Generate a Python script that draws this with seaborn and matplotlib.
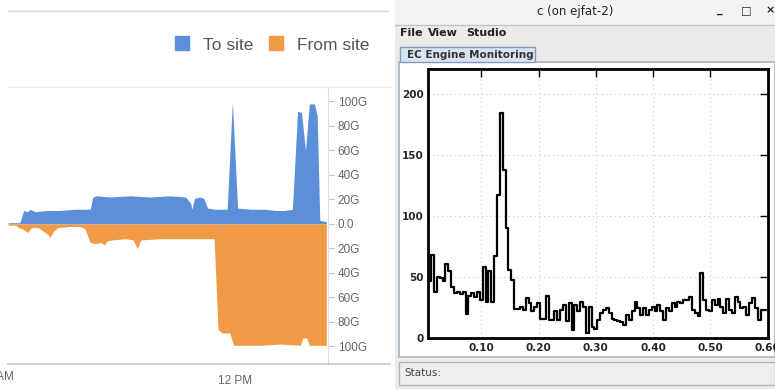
import numpy as np
import pandas as pd
import matplotlib
matplotlib.use('Agg')
import matplotlib.pyplot as plt
import seaborn as sns
from matplotlib.patches import Rectangle
from matplotlib.lines import Line2D
from matplotlib.ticker import MultipleLocator, FormatStrFormatter

""" Data """

# left panel: site traffic, minutes after 9 AM vs Gbit/s
to_minutes = [6, 15, 18, 21, 23, 27, 35, 46, 57, 69, 71, 74, 84, 100, 115, 130, 142, 146, 147, 149,
              153, 156, 159, 165, 174, 178, 182, 192, 203, 211, 218, 224, 228, 231, 234, 237, 241,
              243, 245, 250]
to_site = [1, 1, 11, 10, 12, 10, 11, 11, 12, 12, 22, 23, 22, 23, 22, 23, 22, 17, 12, 21,
           22, 21, 13, 12, 12, 100, 13, 12, 12, 11, 11, 12, 92, 91, 60, 98, 98,
           88, 3, 2]

from_minutes = [6, 12, 14, 17, 21, 24, 29, 32, 37, 38, 41, 44, 54, 61, 65, 69, 73, 77, 80, 82,
                86, 96, 102, 105, 108, 123, 138, 153, 164, 167, 170, 176, 179, 199, 215, 230,
                232, 235, 237, 250]
from_site = [1, 1, 3, 4, 7, 3, 3, 5, 9, 11, 6, 3, 2, 2, 4, 15, 16, 15, 17, 14,
             13, 12, 13, 20, 13, 12, 12, 12, 12, 86, 89, 89, 99, 99, 98, 99,
             93, 93, 99, 99]

y_ticks = [-100, -80, -60, -40, -20, 0, 20, 40, 60, 80, 100]

# right panel: EC engine histogram
bin_start = 0.0075
bin_width = 0.005
counts = [47, 68, 38, 50, 49, 47, 61, 55, 42, 37, 38, 36, 38, 20, 35, 37, 34, 38, 31, 58,
          30, 55, 30, 67, 117, 184, 138, 90,
          56, 48, 24, 24, 26, 23, 33, 29, 22, 26, 29, 16, 16, 35, 15, 15, 22, 15, 23, 27,
          14, 29, 7, 27, 22, 30, 26, 4,
          26, 9, 8, 15, 21, 23, 25, 21, 16, 15, 14, 13, 11, 19, 15, 22, 30, 25, 19, 25,
          19, 23, 26, 22, 27, 22, 15, 25, 22, 29, 26, 30, 29, 31, 31, 34, 23, 21, 18,
          53,
          31, 23, 22, 31, 27, 32, 26, 21, 32, 23, 21, 34, 30, 25, 26, 19, 29, 33, 25, 15, 23, 23]

W, H = 775, 389
BLUE = '#5b8fda'
ORANGE = '#f09a45'

sns.set_style('white')
plt.rcParams['font.family'] = ['Liberation Sans', 'DejaVu Sans']


def fx(x):
    return x / W


def fy(y):
    return 1 - y / H


fig = plt.figure(figsize=(W / 100, H / 100), dpi=100)
fig.patch.set_facecolor('white')

""" Left panel """

ax1 = fig.add_axes([fx(8), fy(364), fx(328) - fx(8), fy(87) - fy(364)])
ax1.fill_between(to_minutes, 0, to_site, color=BLUE, lw=0)
ax1.fill_between(from_minutes, 0, -np.array(from_site), color=ORANGE, lw=0)
ax1.set_xlim(6, 251.3)
ax1.set_ylim(-114.3, 111.8)
ax1.yaxis.tick_right()
ax1.set_yticks(y_ticks)
ax1.set_yticklabels([f'{abs(v)}G' if v else '0.0' for v in y_ticks])
ax1.set_xticks([180])
ax1.set_xticklabels(['12 PM'])
ax1.tick_params(axis='y', length=4, color='#c4c4c4', labelcolor='#666666', labelsize=8.5, pad=3)
ax1.tick_params(axis='x', length=6, color='#c4c4c4', labelcolor='#666666', labelsize=8.5, pad=2)
for s in ['left', 'top']:
    ax1.spines[s].set_visible(False)
ax1.spines['right'].set_color('#dddddd')
ax1.spines['bottom'].set_color('#c8c8c8')
ax1.spines['bottom'].set_linewidth(1.2)
ax1.text(0, -0.025, '9 AM', transform=ax1.get_xaxis_transform(), ha='center', va='top',
         fontsize=8.5, color='#666666', clip_on=False)

fig.add_artist(Line2D([fx(8), fx(388)], [fy(11), fy(11)], color='#d4d4d4', lw=1))
fig.add_artist(Line2D([fx(8), fx(390)], [fy(87), fy(87)], color='#ececec', lw=1))
fig.add_artist(Line2D([fx(328), fx(390)], [fy(364), fy(364)], color='#c8c8c8', lw=1.2))

handles = [Line2D([], [], marker='s', ls='', markersize=10, color=c) for c in (BLUE, ORANGE)]
fig.legend(handles, ['To site', 'From site'], loc='center right', bbox_to_anchor=(fx(376), fy(45)),
           ncol=2, frameon=False, fontsize=12.5, handletextpad=0.2, columnspacing=0.3,
           labelcolor='#555555', borderaxespad=0)

""" Right panel: java window """

win = dict(transform=fig.transFigure, zorder=-5)
fig.add_artist(Rectangle((fx(395), 0), fx(W) - fx(395), 1, fc='#ebebeb', ec='none', **win))
fig.add_artist(Rectangle((fx(395), fy(25)), fx(W) - fx(395), fy(0) - fy(25), fc='#f3f3f3', ec='none', **win))
fig.add_artist(Line2D([fx(395), fx(W)], [fy(25), fy(25)], color='#c4c4c4', lw=1))
fig.text(fx(575), fy(11), 'c (on ejfat-2)', ha='center', va='center', fontsize=8.5,
         family='DejaVu Sans', color='#222222')
for xx, ch in [(720, '_'), (746, '□'), (770, '×')]:
    fig.text(fx(xx), fy(10), ch, ha='center', va='center', fontsize=8, family='DejaVu Sans',
             color='#222222', weight='bold')
for xx, ch in [(400, 'File'), (428, 'View'), (466, 'Studio')]:
    fig.text(fx(xx), fy(33), ch, ha='left', va='center', fontsize=8, family='DejaVu Sans',
             color='#222222', weight='bold')

fig.add_artist(Rectangle((fx(399), fy(357)), fx(W) - fx(399), fy(62) - fy(357), fc='white',
                         ec='#a4b4c6', lw=1.2, **win))
fig.add_artist(Rectangle((fx(400), fy(62)), fx(535) - fx(400), fy(47) - fy(62), fc='#d8e4ef',
                         ec='#7f9cba', lw=1, **win))
fig.text(fx(407), fy(55), 'EC Engine Monitoring', ha='left', va='center', fontsize=7.5,
         family='DejaVu Sans', weight='bold', color='#333333')
fig.add_artist(Rectangle((fx(399), fy(385)), fx(W) - fx(399), fy(362) - fy(385), fc='#eeeeee',
                         ec='#b4b4b4', lw=1, **win))
fig.text(fx(404), fy(373), 'Status:', ha='left', va='center', fontsize=7.5,
         family='DejaVu Sans', color='#444444')

ax2 = fig.add_axes([fx(428.3), fy(338.3), fx(767.7) - fx(428.3), fy(69.3) - fy(338.3)])
edges = (bin_start + bin_width * np.arange(len(counts) + 1)).tolist()
hist = pd.DataFrame({'x': np.array(edges[:-1]) + bin_width / 2, 'count': counts})
sns.histplot(data=hist, x='x', weights='count', bins=edges, element='step', fill=False,
             color='black', linewidth=1.6, ax=ax2)
ax2.set_xlim(edges[0], 0.6)
ax2.set_ylim(0, 220)
ax2.set_xlabel('')
ax2.set_ylabel('')
ax2.xaxis.set_major_locator(MultipleLocator(0.1))
ax2.xaxis.set_minor_locator(MultipleLocator(0.02))
ax2.yaxis.set_major_locator(MultipleLocator(50))
ax2.yaxis.set_minor_locator(MultipleLocator(10))
ax2.xaxis.set_major_formatter(FormatStrFormatter('%.2f'))
ax2.tick_params(which='both', direction='in', color='black')
ax2.tick_params(which='major', length=6, width=1, top=True, right=True, labelsize=7.5)
ax2.tick_params(which='minor', length=3, width=1, top=False, right=False)
for lab in ax2.get_xticklabels() + ax2.get_yticklabels():
    lab.set_fontweight('bold')
    lab.set_family('DejaVu Sans')
ax2.grid(which='major', linestyle=(0, (1, 3)), color='#c8c8c8', lw=0.8)
for s in ax2.spines.values():
    s.set_linewidth(2)
    s.set_color('black')

fig.savefig('out.png', dpi=100)
